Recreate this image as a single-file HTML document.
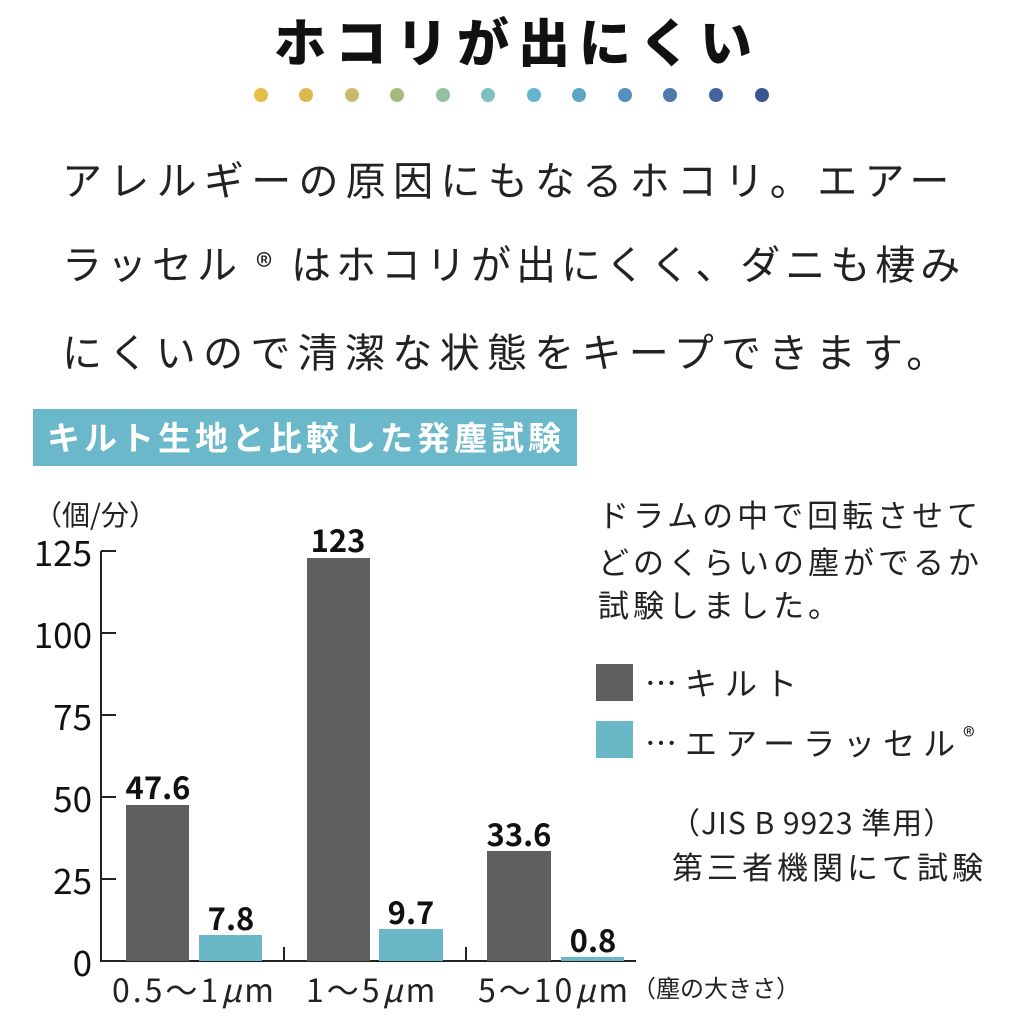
<!DOCTYPE html>
<html><head><meta charset="utf-8"><style>
body{margin:0;width:1024px;height:1024px;background:#fff;position:relative;overflow:hidden;font-family:"Liberation Sans","Noto Sans CJK JP",sans-serif;color:#222}
.a{position:absolute;white-space:nowrap;line-height:1}
.j{font-family:"Noto Sans CJK JP",sans-serif}
.dot{position:absolute;width:14px;height:14px;border-radius:50%;top:88px}
.v{position:absolute;font-family:"Noto Sans CJK JP",sans-serif;font-weight:700;font-size:31px;line-height:1;transform:translateX(-50%);color:#111}
.y{position:absolute;font-family:"Noto Sans CJK JP",sans-serif;font-size:35px;line-height:1;right:932px;color:#111}
</style></head><body>
<div class="a j" style="left:274px;top:14px;font-size:52px;font-weight:900;letter-spacing:9px;color:#111">ホコリが出にくい</div>
<div class="dot" style="left:254px;background:#e8bd45"></div>
<div class="dot" style="left:299px;background:#dcb94e"></div>
<div class="dot" style="left:345px;background:#c9bb69"></div>
<div class="dot" style="left:390px;background:#a8b97e"></div>
<div class="dot" style="left:436px;background:#95bfa0"></div>
<div class="dot" style="left:481px;background:#7fc0c2"></div>
<div class="dot" style="left:527px;background:#62b5ce"></div>
<div class="dot" style="left:572px;background:#5ea4c4"></div>
<div class="dot" style="left:618px;background:#568fbd"></div>
<div class="dot" style="left:663px;background:#4f79ad"></div>
<div class="dot" style="left:709px;background:#45649f"></div>
<div class="dot" style="left:755px;background:#3c5493"></div>

<div class="a j" style="left:62px;top:158px;font-size:40px;letter-spacing:7.3px">アレルギーの原因にもなるホコリ。エアー</div>
<div class="a j" style="left:62px;top:242px;font-size:40px;letter-spacing:5px">ラッセル <span style="font-size:34px">®</span> はホコリが出にくく、ダニも棲み</div>
<div class="a j" style="left:62px;top:330px;font-size:40px;letter-spacing:7.3px">にくいので清潔な状態をキープできます。</div>

<div style="position:absolute;left:33px;top:409px;width:544px;height:57px;background:#6ab8c9"></div>
<div class="a j" style="left:47px;top:420px;font-size:33px;font-weight:700;letter-spacing:4px;color:#fff">キルト生地と比較した発塵試験</div>

<div class="a j" style="left:34px;top:500px;font-size:28px">（個/分）</div>
<div class="y" style="top:534px">125</div>
<div class="y" style="top:616px">100</div>
<div class="y" style="top:698px">75</div>
<div class="y" style="top:780px">50</div>
<div class="y" style="top:862px">25</div>
<div class="y" style="top:944px">0</div>

<svg style="position:absolute;left:0;top:0" width="1024" height="1024">
<g stroke="#222" stroke-width="2" fill="none">
<line x1="101" y1="551" x2="101" y2="962"/>
<line x1="100" y1="961" x2="636" y2="961"/>
<line x1="101" y1="551" x2="116" y2="551"/>
<line x1="101" y1="633" x2="116" y2="633"/>
<line x1="101" y1="715" x2="116" y2="715"/>
<line x1="101" y1="797" x2="116" y2="797"/>
<line x1="101" y1="879" x2="116" y2="879"/>
<line x1="284" y1="961" x2="284" y2="947"/>
<line x1="466" y1="961" x2="466" y2="947"/>
</g>
<rect x="126" y="805" width="63" height="156" fill="#5f5f5f"/>
<rect x="199" y="935" width="63" height="26" fill="#6ab7c8"/>
<rect x="307" y="558" width="63" height="403" fill="#5f5f5f"/>
<rect x="379" y="929" width="64" height="32" fill="#6ab7c8"/>
<rect x="487" y="851" width="64" height="110" fill="#5f5f5f"/>
<rect x="561" y="957" width="63" height="4" fill="#6ab7c8"/>
</svg>

<div class="v" style="left:158px;top:770px">47.6</div>
<div class="v" style="left:231px;top:901px">7.8</div>
<div class="v" style="left:338px;top:523px">123</div>
<div class="v" style="left:411px;top:895px">9.7</div>
<div class="v" style="left:519px;top:817px">33.6</div>
<div class="v" style="left:593px;top:923px">0.8</div>

<div class="a j" style="left:112px;top:973px;font-size:32px;letter-spacing:3px">0.5〜1<i>μ</i>m</div>
<div class="a j" style="left:306px;top:973px;font-size:32px;letter-spacing:3px">1〜5<i>μ</i>m</div>
<div class="a j" style="left:478px;top:973px;font-size:32px;letter-spacing:3px">5〜10<i>μ</i>m</div>
<div class="a j" style="left:632px;top:975px;font-size:24px">（塵の大きさ）</div>

<div class="a j" style="left:598px;top:498px;font-size:31px;letter-spacing:4px">ドラムの中で回転させて</div>
<div class="a j" style="left:598px;top:545px;font-size:31px;letter-spacing:4px">どのくらいの塵がでるか</div>
<div class="a j" style="left:598px;top:588px;font-size:31px;letter-spacing:4px">試験しました。</div>

<div style="position:absolute;left:596px;top:664px;width:37px;height:37px;background:#5f5f5f"></div>
<div style="position:absolute;left:596px;top:721px;width:37px;height:37px;background:#6ab7c8"></div>
<div class="a j" style="left:645px;top:666px;font-size:32px;letter-spacing:8px">…キルト</div>
<div class="a j" style="left:645px;top:723px;font-size:32px;letter-spacing:8px">…エアーラッセル<span style="font-size:24px;vertical-align:10px;letter-spacing:0">®</span></div>

<div class="a j" style="left:670px;top:806px;font-size:30px;letter-spacing:1px">（JIS B 9923 準用）</div>
<div class="a j" style="left:672px;top:850px;font-size:31px;letter-spacing:4px">第三者機関にて試験</div>
</body></html>
